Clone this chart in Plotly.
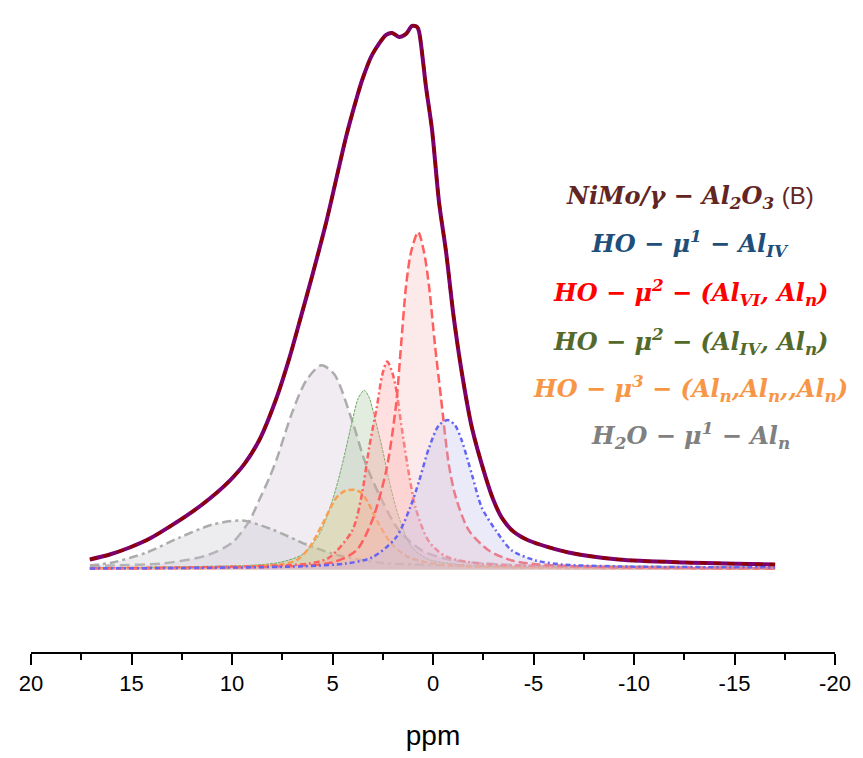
import plotly.graph_objects as go

# ---------------- data ----------------
env_ppm = [17.07, 16.08, 15.09, 14.09, 13.10, 12.11, 11.12, 10.12, 9.38, 8.64, 7.79, 7.15, 6.50,
           6.05, 5.31, 4.32, 3.82, 3.52, 3.03, 2.33, 2.03, 1.69, 1.34, 1.04, 0.79, 0.69, 0.35, 0.05,
           -0.30, -0.65, -1.04, -1.44, -1.94, -2.63, -3.00, -3.42, -4.00, -4.76, -6.75, -9.23, -12.56, -17.02]
env_int = [10, 15, 22, 31, 43, 56, 71, 89, 106, 130, 172, 212, 259,
           292, 349, 435, 472, 492, 517, 537, 539, 535, 538, 546, 545, 540, 485, 442,
           369, 319, 252, 197, 142, 92, 70, 52, 38, 29, 17, 10, 7, 5]

blue_ppm = [17.07, 6.65, 4.32, 3.03, 1.84, 1.14, 0.69, 0.20, -0.30, -0.74, -1.09, -1.44, -1.94,
            -2.43, -3.13, -3.92, -5.11, -6.40, -9.23, -17.02]
blue_int = [1, 3, 6, 12, 32, 62, 89, 122, 145, 150, 145, 129, 95, 62, 39, 19, 9, 5, 3, 2]

redA_ppm = [17.07, 9.13, 5.01, 3.82, 3.03, 2.33, 1.84, 1.59, 1.34, 1.09, 0.74, 0.45, 0.20, -0.10,
            -0.40, -0.79, -1.14, -1.79, -2.78, -3.92, -5.26, -9.23, -17.02]
redA_int = [1, 2, 7, 19, 49, 99, 165, 225, 285, 319, 339, 319, 285, 225,
            172, 105, 72, 39, 19, 9, 5, 2, 1]

redB_ppm = [17.07, 9.13, 6.15, 5.16, 4.02, 3.57, 3.18, 2.78, 2.53, 2.28, 2.03, 1.84, 1.54, 1.19,
            0.84, 0.20, -0.65, -2.28, -6.25, -17.02]
redB_int = [1, 3, 6, 12, 39, 72, 122, 165, 195, 209, 198, 182, 140, 95, 60, 28, 13, 6, 3, 1]

green_ppm = [17.07, 11.61, 9.13, 7.64, 6.50, 5.66, 5.01, 4.52, 4.02, 3.72, 3.42, 3.18, 2.93, 2.53,
             2.18, 1.69, 1.04, 0.20, -1.79, -6.25, -17.02]
green_int = [1, 3, 4, 7, 15, 35, 69, 105, 149, 172, 180, 173, 155, 122, 89, 52, 22, 10, 4, 2, 1]

orange_ppm = [17.07, 9.13, 7.64, 6.80, 6.15, 5.51, 4.81, 4.37, 3.92, 3.57, 3.28, 2.68, 2.03, 1.19,
              -0.30, -4.27, -17.02]
orange_int = [1, 3, 5, 9, 22, 45, 72, 79, 80, 77, 69, 45, 25, 12, 5, 2, 1]

grayA_ppm = [17.07, 15.93, 13.45, 11.27, 9.98, 9.13, 8.64, 8.14, 7.79, 7.00, 6.30, 5.56, 4.91, 4.02,
             3.33, 2.53, 1.69, 0.55, -0.79, -3.28, -8.24, -17.02]
grayA_int = [3, 4, 6, 14, 27, 49, 70, 92, 110, 158, 190, 205, 196, 149, 105, 69, 39, 19, 10, 5, 3, 2]

grayB_ppm = [17.07, 15.93, 14.24, 12.61, 10.97, 9.48, 7.99, 6.30, 4.67, 2.68, -0.79, -17.02]
grayB_int = [4, 7, 17, 32, 45, 49, 40, 25, 14, 7, 4, 2]

x_ticks = [20, 15, 10, 5, 0, -5, -10, -15, -20]
x_tick_labels = ["20", "15", "10", "5", "0", "-5", "-10", "-15", "-20"]

legend_lines = [
    ("<b><i>NiMo/γ − Al<sub>2</sub>O<sub>3</sub></i></b> <span style=\"font-family:Arial;font-weight:normal\">(B)</span>", "rgb(99,37,35)"),
    ("<b><i>HO − μ<sup>1</sup> − Al<sub>IV</sub></i></b>", "rgb(31,78,121)"),
    ("<b><i>HO − μ<sup>2</sup> − (Al<sub>VI</sub>, Al<sub>n</sub>)</i></b>", "rgb(255,0,0)"),
    ("<b><i>HO − μ<sup>2</sup> − (Al<sub>IV</sub>, Al<sub>n</sub>)</i></b>", "rgb(84,106,44)"),
    ("<b><i>HO − μ<sup>3</sup> − (Al<sub>n</sub>,Al<sub>n</sub>,,Al<sub>n</sub>)</i></b>", "rgb(247,150,70)"),
    ("<b><i>H<sub>2</sub>O − μ<sup>1</sup> − Al<sub>n</sub></i></b>", "rgb(128,128,128)"),
]
legend_y = [374, 327, 278, 229, 182, 135]

# ---------------- figure ----------------
fig = go.Figure()

components = [
    (grayA_ppm, grayA_int, "rgb(172,172,172)", "10px,5px", 2.5, "rgba(215,205,222,0.38)"),
    (grayB_ppm, grayB_int, "rgb(172,172,172)", "9px,4px,3px,4px", 2.5, "rgba(200,198,208,0.32)"),
    (green_ppm, green_int, "rgb(110,170,100)", "3px,1px", 1.0, "rgba(150,190,140,0.28)"),
    (orange_ppm, orange_int, "rgb(247,160,80)", "6px,3px", 2.5, "rgba(250,205,110,0.22)"),
    (redB_ppm, redB_int, "rgb(255,95,95)", "6px,3px,2px,3px", 2.5, "rgba(255,150,150,0.30)"),
    (redA_ppm, redA_int, "rgb(255,95,95)", "9px,4px", 2.5, "rgba(245,190,190,0.32)"),
    (blue_ppm, blue_int, "rgb(100,100,245)", "5px,3px,2px,3px", 2.5, "rgba(190,190,235,0.32)"),
]
for xs, ys, lc, dash, w, fc in components:
    fig.add_trace(go.Scatter(x=xs, y=ys, mode="lines", fill="tozeroy", fillcolor=fc,
                             line=dict(color=lc, width=w, dash=dash, shape="spline", smoothing=0.8),
                             showlegend=False, hoverinfo="skip"))

fig.add_trace(go.Scatter(x=env_ppm, y=env_int, mode="lines",
                         line=dict(color="rgb(125,0,110)", width=4, shape="spline", smoothing=0.8),
                         showlegend=False, hoverinfo="skip"))
fig.add_trace(go.Scatter(x=env_ppm, y=env_int, mode="lines",
                         line=dict(color="rgb(140,0,0)", width=3, dash="7px,7px", shape="spline", smoothing=0.8),
                         showlegend=False, hoverinfo="skip"))

for (txt, col), yy in zip(legend_lines, legend_y):
    fig.add_annotation(x=-12.8, y=yy, xref="x", yref="y", text=txt, showarrow=False,
                       xanchor="center", yanchor="middle",
                       font=dict(family="DejaVu Serif", size=24, color=col))

fig.update_layout(
    width=863, height=758,
    margin=dict(l=31, r=26, t=20, b=103),
    paper_bgcolor="white", plot_bgcolor="white",
    xaxis=dict(range=[20, -20], tickvals=x_ticks, ticktext=x_tick_labels,
               showgrid=False, zeroline=False, showline=True, linecolor="black", linewidth=2,
               ticks="outside", ticklen=11, tickwidth=2, tickcolor="black",
               minor=dict(dtick=2.5, ticks="outside", ticklen=6, tickwidth=2, tickcolor="black"),
               tickfont=dict(family="Arial", size=22, color="black"),
               title=dict(text="ppm", font=dict(family="Arial", size=28, color="black"), standoff=30)),
    yaxis=dict(range=[-83, 552], visible=False, showgrid=False, zeroline=False),
)

fig.write_html("out.html")
